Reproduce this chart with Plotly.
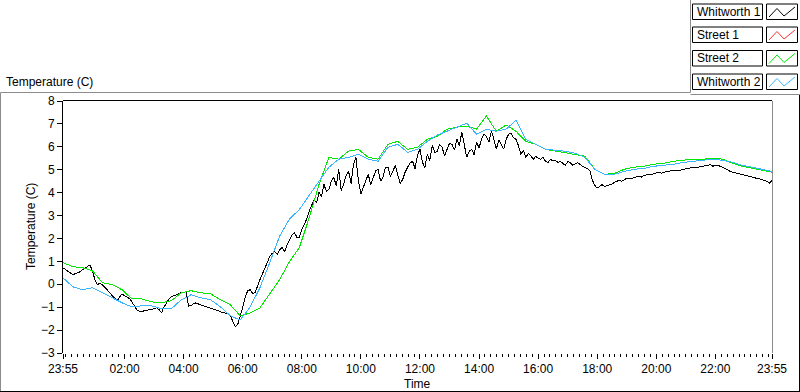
import plotly.graph_objects as go
import pandas as pd

# ---------------- data ----------------
series_names = ["Whitworth 1", "Street 1", "Street 2", "Whitworth 2"]
series_colors = ["#000000", "#FF3030", "#00E800", "#3AB4FF"]

start_time = "2000-01-01 23:55"
end_time = "2000-01-02 23:55"

# Whitworth 1, one reading every 5 minutes
whitworth1 = [
    0.72, 0.65, 0.59, 0.50, 0.42, 0.46, 0.50, 0.55, 0.64, 0.70,
    0.77, 0.85, 0.55, 0.20, -0.02, 0.05, -0.02, -0.12, -0.24, -0.38,
    -0.50, -0.62, -0.72, -0.55, -0.42, -0.50, -0.55, -0.62, -0.77, -0.98,
    -1.12, -1.18, -1.21, -1.15, -1.16, -1.10, -1.12, -1.05, -1.03, -1.10,
    -1.25, -1.00, -0.81, -0.65, -0.55, -0.50, -0.46, -0.42, -0.37, -0.35,
    -0.33, -0.95, -0.94, -0.85, -0.81, -0.86, -0.90, -0.95, -0.99, -1.02,
    -1.07, -1.10, -1.12, -1.15, -1.21, -1.23, -1.25, -1.30, -1.38, -1.60,
    -1.86, -1.75, -1.42, -1.00, -0.59, -0.28, -0.24, -0.40, -0.37, -0.05,
    0.20, 0.45, 0.72, 0.95, 1.21, 1.35, 1.42, 1.30, 1.51, 1.60,
    1.42, 1.70, 1.95, 2.15, 2.26, 2.05, 2.04, 2.40, 2.61, 2.85,
    3.18, 3.45, 3.70, 3.55, 4.01, 3.80, 4.36, 4.05, 4.14, 4.50,
    4.67, 4.30, 5.02, 4.10, 4.36, 4.75, 4.93, 4.40, 5.24, 5.55,
    4.49, 3.95, 4.23, 4.60, 4.80, 4.35, 4.67, 4.95, 5.02, 4.50,
    4.67, 5.10, 5.11, 4.70, 4.93, 5.20, 4.75, 4.40, 4.58, 4.90,
    5.11, 5.30, 5.37, 5.05, 5.63, 5.90, 5.32, 5.10, 5.67, 5.40,
    6.07, 5.75, 5.81, 6.10, 5.98, 5.60, 5.89, 6.15, 6.11, 5.85,
    6.33, 6.05, 6.64, 6.10, 5.54, 5.80, 5.89, 5.65, 6.20, 5.95,
    6.33, 6.55, 6.46, 6.20, 6.68, 6.35, 5.89, 6.30, 6.11, 5.90,
    6.33, 6.55, 6.60, 6.40, 6.33, 6.05, 5.67, 5.85, 5.54, 5.70,
    5.63, 5.45, 5.59, 5.50, 5.46, 5.55, 5.37, 5.30, 5.46, 5.38,
    5.41, 5.32, 5.37, 5.28, 5.19, 5.35, 5.32, 5.20, 5.24, 5.30,
    5.24, 5.15, 5.11, 5.05, 4.97, 4.55, 4.32, 4.20, 4.27, 4.35,
    4.27, 4.30, 4.36, 4.38, 4.45, 4.48, 4.54, 4.50, 4.58, 4.63,
    4.62, 4.60, 4.67, 4.70, 4.71, 4.68, 4.75, 4.78, 4.80, 4.77,
    4.84, 4.86, 4.89, 4.85, 4.89, 4.92, 4.93, 4.95, 4.97, 4.94,
    4.97, 5.00, 5.02, 5.04, 5.06, 5.08, 5.11, 5.08, 5.11, 5.14,
    5.15, 5.18, 5.19, 5.22, 5.15, 5.20, 5.19, 5.16, 5.11, 5.05,
    4.97, 4.93, 4.89, 4.86, 4.84, 4.82, 4.80, 4.74, 4.71, 4.70,
    4.67, 4.63, 4.62, 4.60, 4.58, 4.52, 4.49, 4.42, 4.54,
]

# Street 2, one reading every 20 minutes
street2 = [
    0.94, 0.77, 0.72, 0.59, 0.07, -0.02, -0.24, -0.64, -0.64, -0.77,
    -0.81, -0.72, -0.37, -0.28, -0.37, -0.42, -0.68, -0.90, -1.38, -1.25,
    -1.03, -0.42, 0.20, 0.99, 1.60, 2.90, 4.36, 5.54, 5.46, 5.81,
    5.89, 5.54, 5.46, 6.11, 6.24, 5.89, 5.98, 6.33, 6.46, 6.77,
    6.86, 6.90, 6.77, 7.34, 6.68, 6.95, 6.68, 6.24, 6.11, 5.89,
    5.81, 5.76, 5.67, 5.59, 5.02, 4.80, 4.84, 5.02, 5.11, 5.15,
    5.24, 5.28, 5.37, 5.41, 5.46, 5.46, 5.50, 5.46, 5.28, 5.15,
    5.06, 4.97, 4.89,
]

# Street 1 is hidden underneath Street 2 in the reference
street1 = [
    0.94, 0.77, 0.72, 0.59, 0.07, -0.02, -0.24, -0.64, -0.64, -0.77,
    -0.81, -0.72, -0.37, -0.28, -0.37, -0.42, -0.68, -0.90, -1.38, -1.25,
    -1.03, -0.42, 0.20, 0.99, 1.60, 2.90, 4.36, 5.54, 5.46, 5.81,
    5.89, 5.54, 5.46, 6.11, 6.24, 5.89, 5.98, 6.33, 6.46, 6.77,
    6.86, 6.90, 6.77, 7.34, 6.68, 6.95, 6.68, 6.24, 6.11, 5.89,
    5.81, 5.76, 5.67, 5.59, 5.02, 4.80, 4.84, 5.02, 5.11, 5.15,
    5.24, 5.28, 5.37, 5.41, 5.46, 5.46, 5.50, 5.46, 5.28, 5.15,
    5.06, 4.97, 4.89,
]

# Whitworth 2, one reading every 20 minutes
whitworth2 = [
    0.28, -0.11, -0.24, -0.15, -0.37, -0.59, -0.81, -0.99, -0.94, -0.94,
    -1.07, -1.07, -0.68, -0.46, -0.59, -0.68, -0.99, -1.38, -1.56, -0.99,
    -0.15, 0.95, 2.10, 2.85, 3.26, 3.88, 4.49, 5.11, 5.46, 5.54,
    5.67, 5.46, 5.37, 5.98, 6.11, 5.76, 5.89, 6.24, 6.51, 6.68,
    6.86, 7.03, 6.55, 6.77, 6.68, 6.77, 7.16, 6.33, 6.11, 5.89,
    5.85, 5.81, 5.72, 5.54, 5.02, 4.80, 4.80, 4.93, 5.02, 5.06,
    5.15, 5.19, 5.24, 5.32, 5.37, 5.41, 5.46, 5.41, 5.32, 5.19,
    5.11, 5.02, 4.93,
]

tick_times = [
    "2000-01-01 23:55", "2000-01-02 02:00", "2000-01-02 04:00", "2000-01-02 06:00",
    "2000-01-02 08:00", "2000-01-02 10:00", "2000-01-02 12:00", "2000-01-02 14:00",
    "2000-01-02 16:00", "2000-01-02 18:00", "2000-01-02 20:00", "2000-01-02 22:00",
    "2000-01-02 23:55",
]
tick_labels = ["23:55", "02:00", "04:00", "06:00", "08:00", "10:00", "12:00",
               "14:00", "16:00", "18:00", "20:00", "22:00", "23:55"]
y_ticks = [-3, -2, -1, 0, 1, 2, 3, 4, 5, 6, 7, 8]

t5 = pd.date_range(start_time, periods=len(whitworth1), freq="5min")
t20 = pd.date_range(start_time, periods=len(street2), freq="20min")

# ---------------- layout geometry (pixels) ----------------
W, H = 800, 392
L, R, T, B = 63, 772, 101, 353
FONT = "Liberation Sans"


def px(x):
    return (x - L) / (R - L)


def py(y):
    return (B - y) / (B - T)


fig = go.Figure()
series_data = [(t5, whitworth1), (t20, street1), (t20, street2), (t20, whitworth2)]
for name, color, (tt, vv) in zip(series_names, series_colors, series_data):
    fig.add_trace(go.Scatter(x=tt, y=vv, mode="lines", name=name,
                             line=dict(color=color, width=1), showlegend=False,
                             hoverinfo="skip"))

shapes = []


def seg(x0, y0, x1, y1, color):
    shapes.append(dict(type="line", xref="paper", yref="paper",
                       x0=px(x0), y0=py(y0), x1=px(x1), y1=py(y1),
                       line=dict(color=color, width=1), layer="above"))


# plot frame
seg(L, T - 0.5, R, T - 0.5, "#000000")
seg(R + 0.5, T, R + 0.5, B, "#8C8C8C")
# outer panel
seg(0.5, 92.5, 690.5, 92.5, "#8C8C8C")
seg(0.5, 92.5, 0.5, 391.5, "#8C8C8C")
seg(0, 391.5, 800, 391.5, "#000000")
seg(799.5, 94.5, 799.5, 392, "#000000")
seg(690.5, 0, 690.5, 92.5, "#8C8C8C")
seg(690.5, 94.5, 800, 94.5, "#8C8C8C")

annotations = []
row_tops = [4, 27, 50.5, 74]
row_h = 15.5
for name, color, top in zip(series_names, series_colors, row_tops):
    shapes.append(dict(type="rect", xref="paper", yref="paper",
                       x0=px(692.5), x1=px(762.5), y0=py(top), y1=py(top + row_h),
                       line=dict(color="#000000", width=1), fillcolor="white"))
    shapes.append(dict(type="rect", xref="paper", yref="paper",
                       x0=px(766.5), x1=px(797.5), y0=py(top), y1=py(top + row_h),
                       line=dict(color="#000000", width=1), fillcolor="white"))
    pts = [(769, top + 13), (777, top + 4.5), (784, top + 12), (795, top + 3)]
    path = "M " + " L ".join(f"{px(a):.5f},{py(b):.5f}" for a, b in pts)
    shapes.append(dict(type="path", xref="paper", yref="paper", path=path,
                       line=dict(color=color, width=1)))
    annotations.append(dict(xref="paper", yref="paper", x=px(694.5), y=py(top + row_h / 2),
                            text=name, showarrow=False, xanchor="left", yanchor="middle",
                            font=dict(family=FONT, size=12, color="black")))

annotations.append(dict(xref="paper", yref="paper", x=px(4), y=py(82),
                        text="Temperature (C)", showarrow=False, xanchor="left",
                        yanchor="middle", font=dict(family=FONT, size=12, color="black")))
annotations.append(dict(xref="paper", yref="paper", x=px(31), y=0.5,
                        text="Temperature (C)", showarrow=False, textangle=-90,
                        xanchor="center", yanchor="middle",
                        font=dict(family=FONT, size=12, color="black")))
annotations.append(dict(xref="paper", yref="paper", x=0.5, y=py(384),
                        text="Time", showarrow=False, xanchor="center", yanchor="middle",
                        font=dict(family=FONT, size=12, color="black")))

fig.update_layout(
    width=W, height=H, autosize=False,
    margin=dict(l=L, r=W - R, t=T, b=H - B, pad=0),
    paper_bgcolor="white", plot_bgcolor="white",
    font=dict(family=FONT, size=12, color="black"),
    shapes=shapes, annotations=annotations, showlegend=False,
    hovermode=False,
    xaxis=dict(type="date", range=[start_time, end_time],
               tickmode="array", tickvals=tick_times, ticktext=tick_labels,
               ticks="outside", ticklen=5, tickcolor="black", tickwidth=1,
               showgrid=False, zeroline=False, showline=False,
               tickfont=dict(family=FONT, size=12, color="black"),
               minor=dict(ticks="outside", ticklen=3, tickcolor="black",
                          dtick=12 * 60 * 1000, tick0="2000-01-02 00:00", showgrid=False)),
    yaxis=dict(range=[-3, 8], tickmode="array", tickvals=y_ticks,
               ticks="outside", ticklen=5, tickcolor="black", tickwidth=1,
               showgrid=False, zeroline=False, showline=True,
               linecolor="black", linewidth=1,
               tickfont=dict(family=FONT, size=12, color="black")),
)

post = (
    "document.body.style.margin='0';document.body.style.overflow='hidden';"
    "document.querySelectorAll('.scatterlayer path.js-line').forEach(function(p){"
    "p.style.shapeRendering='crispEdges';});"
)
fig.write_html("out.html", config={"displayModeBar": False}, post_script=post)
